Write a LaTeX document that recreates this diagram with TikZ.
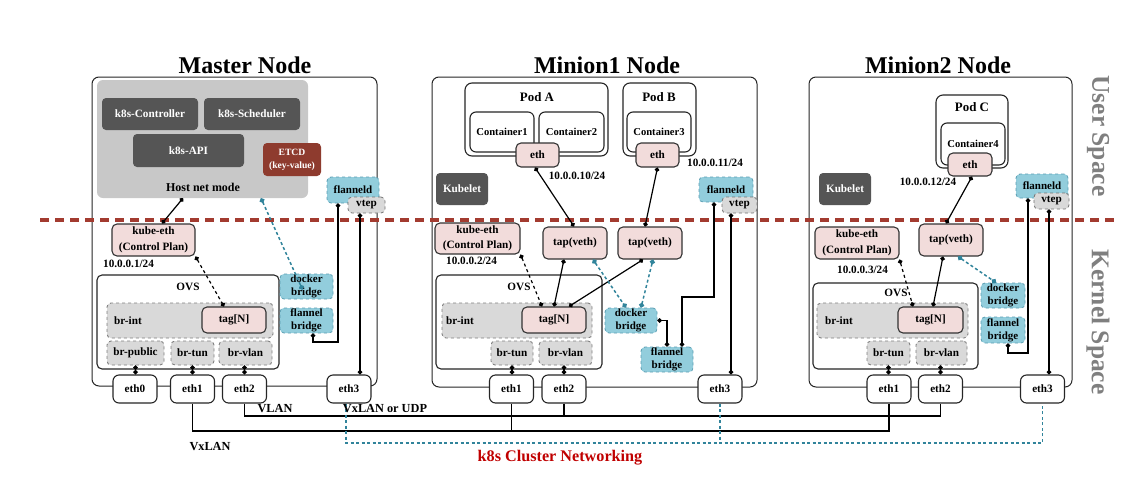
\documentclass[tikz,border=0pt]{standalone}
\usepackage{fontspec}
\setmainfont{Liberation Serif}
\usepackage{tikz}
\usetikzlibrary{arrows.meta,calc}
\definecolor{hostgray}{HTML}{C8C8C8}
\definecolor{darkfill}{HTML}{555555}
\definecolor{etcdred}{HTML}{8E3B2E}
\definecolor{pinkfill}{HTML}{F2DCDB}
\definecolor{flanblue}{HTML}{92CDDC}
\definecolor{flanedge}{HTML}{5B9EB3}
\definecolor{brgray}{HTML}{D9D9D9}
\definecolor{tealline}{HTML}{31849B}
\definecolor{splitred}{HTML}{A33B30}
\definecolor{clusterred}{HTML}{C00000}
\definecolor{spacegray}{HTML}{7F7F7F}
\newcommand{\lblfont}{\fontsize{11.2}{12.5}\selectfont\bfseries}
\newcommand{\ctnfont}{\fontsize{10.6}{12}\selectfont\bfseries}
\tikzset{
  sz/.style 2 args={minimum width=#1pt, minimum height=#2pt},
  nodeframe/.style={draw=black!85, fill=white, rounded corners=7pt, line width=1pt},
  nodetitle/.style={font=\fontsize{24}{26}\selectfont\bfseries, inner sep=0pt},
  hostmode/.style ={fill=hostgray, rounded corners=6pt},
  dark/.style     ={fill=darkfill, text=white, rounded corners=4pt, font=\lblfont, inner sep=0pt},
  etcd/.style     ={fill=etcdred, text=white, rounded corners=4pt, font=\fontsize{9.6}{13}\selectfont\bfseries, align=center, inner sep=0pt},
  pinkbox/.style  ={draw=black!80, fill=pinkfill, rounded corners=5pt, line width=1.1pt, font=\lblfont, align=center, inner sep=0pt},
  kubeeth/.style  ={pinkbox, font=\fontsize{11.2}{15.5}\selectfont\bfseries},
  flan/.style     ={draw=flanedge, dashed, fill=flanblue, rounded corners=4pt, line width=0.8pt, font=\fontsize{11}{13}\selectfont\bfseries, align=center, inner sep=0pt},
  vtepbox/.style  ={draw=black!55, dashed, fill=brgray, rounded corners=4pt, line width=0.8pt, font=\lblfont, inner sep=0pt},
  brbox/.style    ={draw=black!50, dashed, fill=brgray, rounded corners=4pt, line width=0.9pt, font=\lblfont, inner sep=0pt},
  plain/.style    ={draw=black!85, fill=white, rounded corners=5pt, line width=1.1pt, font=\lblfont, inner sep=0pt},
  podbox/.style   ={plain, rounded corners=7pt},
  ctn/.style      ={plain, rounded corners=6pt, font=\ctnfont},
  ethport/.style  ={plain, minimum width=44pt, minimum height=28pt, rounded corners=6pt},
  txt/.style      ={font=\lblfont, inner sep=0pt},
  podlbl/.style   ={font=\fontsize{12.9}{14}\selectfont\bfseries, inner sep=0pt},
  netlbl/.style   ={font=\fontsize{12.3}{14}\selectfont\bfseries, inner sep=0pt},
  spacelbl/.style ={text=spacegray, font=\fontsize{25.5}{27}\selectfont\bfseries, rotate=-90, inner sep=0pt},
  wire/.style     ={line width=1.2pt},
  link/.style     ={line width=1.2pt, {Circle[length=4.5pt]}-{Circle[length=4.5pt]}},
  ctrl/.style     ={link, dashed},
  tealink/.style  ={line width=1.5pt, tealline, dash pattern=on 3pt off 2.5pt, {Circle[length=5pt]}-{Circle[length=5pt]}},
  clusterlink/.style={line width=1.3pt, tealline, dash pattern=on 3pt off 2.5pt},
  splitline/.style={line width=3.5pt, splitred, dash pattern=on 9pt off 6pt},
}
\begin{document}
\begin{tikzpicture}[x=1pt, y=-1pt]
\useasboundingbox (0,0) rectangle (1134,485);

% node frames
\node[nodeframe, sz={285}{309}] (master) at (234.5,231.5) {};
\node[nodeframe, sz={325}{310}] (minion1) at (594.5,232) {};
\node[nodeframe, sz={263}{310}] (minion2) at (940.5,232) {};
\node[nodetitle] (mastertitle) at (245,65) {Master Node};
\node[nodetitle] (minion1title) at (607,65) {Minion1 Node};
\node[nodetitle] (minion2title) at (938,65) {Minion2 Node};

% user / kernel split
\coordinate (splitL) at (40,220);
\coordinate (splitR) at (1117,220);
\draw[splitline] (splitL) -- (splitR);
\node[spacelbl] (userspace) at (1098,136) {User Space};
\node[spacelbl] (kernelspace) at (1098,322) {Kernel Space};

% ---- master ----
\node[hostmode, sz={211}{118}] (host) at (202.5,139) {};
\node[txt, font=\fontsize{12}{13}\selectfont\bfseries] (hostlbl) at (203,187) {Host net mode};
\node[dark, sz={96}{32}] (ctrl) at (150,114) {k8s-Controller};
\node[dark, sz={96}{32}] (sched) at (252,114) {k8s-Scheduler};
\node[dark, sz={111}{33}] (api) at (188.5,150.5) {k8s-API};
\node[etcd, sz={58}{33}] (etcd) at (292,159.5) {ETCD\\(key-value)};
\node[flan, sz={52}{26}] (fld0) at (353,190) {flanneld};
\node[vtepbox, sz={37}{16}] (vtep0) at (366.5,205) {vtep};
\node[kubeeth, sz={83}{32}] (keth0) at (153.5,240) {kube-eth\\(Control Plan)};
\node[txt, anchor=west] (ip0) at (103,264) {10.0.0.1/24};
\node[plain, sz={182}{94}] (ovs0) at (188,322) {};
\node[txt] (ovslbl0) at (188,287) {OVS};
\node[brbox, sz={166}{35}] (brint0) at (190,320.5) {};
\node[txt] (brintlbl0) at (128,321) {br-int};
\node[pinkbox, sz={64}{26}] (tag0) at (234,320) {tag[N]};
\node[brbox, sz={57}{24}] (brpub0) at (135.5,353) {br-public};
\node[brbox, sz={43}{24}] (brtun0) at (192.5,353) {br-tun};
\node[brbox, sz={53}{24}] (brvlan0) at (245.5,353) {br-vlan};
\node[ethport] (eth00) at (135,389) {eth0};
\node[ethport] (eth10) at (192.5,389) {eth1};
\node[ethport] (eth20) at (244.5,389) {eth2};
\node[ethport] (eth30) at (349,389) {eth3};
\node[flan, sz={53}{25}] (dock0) at (306.5,286.5) {docker\\bridge};
\node[flan, sz={53}{25}] (flb0) at (306.5,320.5) {flannel\\bridge};

% ---- minion1 ----
\node[podbox, sz={143}{73}] (poda) at (536.5,119.5) {};
\node[podlbl] (podalbl) at (537,97) {Pod A};
\node[ctn, sz={64}{40}] (ctn1) at (502,132) {Container1};
\node[ctn, sz={65}{40}] (ctn2) at (571.5,132) {Container2};
\node[pinkbox, sz={43}{24}] (etha) at (537.5,155) {eth};
\node[podbox, sz={73}{73}] (podb) at (659.5,119.5) {};
\node[podlbl] (podblbl) at (659,97) {Pod B};
\node[ctn, sz={64}{40}] (ctn3) at (659,132) {Container3};
\node[pinkbox, sz={43}{24}] (ethb) at (657.5,155) {eth};
\node[txt] (ip10) at (577,176) {10.0.0.10/24};
\node[txt] (ip11) at (715,163) {10.0.0.11/24};
\node[dark, sz={52}{32}] (kubelet1) at (462,189) {Kubelet};
\node[flan, sz={54}{25}] (fld1) at (726,189.5) {flanneld};
\node[vtepbox, sz={35}{16}] (vtep1) at (739.5,205) {vtep};
\node[kubeeth, sz={85}{31}] (keth1) at (477.5,238.5) {kube-eth\\(Control Plan)};
\node[txt, anchor=west] (ip2) at (446,261) {10.0.0.2/24};
\node[pinkbox, sz={64}{32}] (tap1) at (575,243) {tap(veth)};
\node[pinkbox, sz={64}{32}] (tap2) at (650,243) {tap(veth)};
\node[plain, sz={166}{94}] (ovs1) at (519,322) {};
\node[txt] (ovslbl1) at (519,287) {OVS};
\node[brbox, sz={150}{35}] (brint1) at (517,320.5) {};
\node[txt] (brintlbl1) at (460,321) {br-int};
\node[pinkbox, sz={64}{26}] (tag1) at (554,320) {tag[N]};
\node[brbox, sz={42}{24}] (brtun1) at (512,353) {br-tun};
\node[brbox, sz={53}{24}] (brvlan1) at (565.5,353) {br-vlan};
\node[ethport] (eth11) at (511.5,389) {eth1};
\node[ethport] (eth21) at (564,389) {eth2};
\node[ethport] (eth31) at (720,389) {eth3};
\node[flan, sz={52}{25}] (dock1) at (631,320.5) {docker\\bridge};
\node[flan, sz={52}{25}] (flb1) at (667,359.5) {flannel\\bridge};

% ---- minion2 ----
\node[podbox, sz={72}{73}] (podc) at (972,131.5) {};
\node[podlbl] (podclbl) at (972,107) {Pod C};
\node[ctn, sz={64}{42}] (ctn4) at (973,144) {};
\node[txt, font=\ctnfont] (ctn4lbl) at (973,144) {Container4};
\node[pinkbox, sz={44}{23}] (ethc) at (970,164.5) {eth};
\node[txt] (ip12) at (928,182) {10.0.0.12/24};
\node[dark, sz={52}{32}] (kubelet2) at (845,189) {Kubelet};
\node[flan, sz={52}{24}] (fld2) at (1042,186) {flanneld};
\node[vtepbox, sz={35}{16}] (vtep2) at (1051.5,201) {vtep};
\node[kubeeth, sz={84}{32}] (keth2) at (857,243) {kube-eth\\(Control Plan)};
\node[txt, anchor=west] (ip3) at (837,270) {10.0.0.3/24};
\node[pinkbox, sz={64}{32}] (tap3) at (951,240) {tap(veth)};
\node[plain, sz={165}{86}] (ovs2) at (895.5,326) {};
\node[txt] (ovslbl2) at (896,293) {OVS};
\node[brbox, sz={151}{35}] (brint2) at (892.5,320.5) {};
\node[txt] (brintlbl2) at (839,321) {br-int};
\node[pinkbox, sz={65}{26}] (tag2) at (930.5,320) {tag[N]};
\node[brbox, sz={43}{24}] (brtun2) at (888.5,353) {br-tun};
\node[brbox, sz={51}{24}] (brvlan2) at (941.5,353) {br-vlan};
\node[ethport] (eth12) at (889,389) {eth1};
\node[ethport] (eth22) at (940.5,389) {eth2};
\node[ethport] (eth32) at (1042.5,389) {eth3};
\node[flan, sz={44}{25}] (dock2) at (1003,295.5) {docker\\bridge};
\node[flan, sz={44}{26}] (flb2) at (1003,330) {flannel\\bridge};

% master links
\draw[link] (host.south -| 183,0) -- (keth0.north -| 162,0);
\draw[tealink] (host.south -| 261,0) -- ($(dock0.center)+(-4,3)$);
\draw[ctrl] (keth0.south east) -- (tag0.north -| 224,0);
\draw[link] (brpub0.south) -- (eth00.north -| brpub0.south);
\draw[link] (brtun0.south) -- (eth10.north);
\draw[link] (brvlan0.south -| eth20.north) -- (eth20.north);
\draw[link] (fld0.south -| 338,0) -- (338,342) -- (313,342) -- (flb0.south -| 313,0);
\draw[link] (vtep0.south -| 360,0) -- (eth30.north -| 360,0);

% minion1 links
\draw[link] (etha.south -| 535,0) -- (tap1.north -| 574,0);
\draw[link] (ethb.south) -- (tap2.north -| 645,0);
\draw[ctrl] (keth1.south east) -- (tag1.north -| 542,0);
\draw[link] (tap1.south -| 564,0) -- (tag1.north);
\draw[link] (tap2.south -| 643,0) -- (tag1.north -| 569,0);
\draw[tealink] (tap1.south -| 593,0) -- (dock1.north -| 626,0);
\draw[tealink] (tap2.south -| 653,0) -- (dock1.north -| 641,0);
\draw[link] (dock1.east) -| (flb1.north);
\draw[link] (fld1.south -| 714,0) |- (682,297) -- (flb1.north -| 682,0);
\draw[link] (vtep1.south -| 731,0) -- (eth31.north -| 731,0);
\draw[link] (brtun1.south) -- (eth11.north -| brtun1.south);
\draw[link] (brvlan1.south -| eth21.north) -- (eth21.north);

% minion2 links
\draw[link] (ethc.south -| 972,0) -- (tap3.north -| 946,0);
\draw[ctrl] (keth2.south east) -- (tag2.north -| 913,0);
\draw[link] (tap3.south -| 943,0) -- (tag2.north -| 933,0);
\draw[tealink] (tap3.south -| 958,0) -- (dock2.north -| 996,0);
\draw[link] (fld2.south -| 1028,0) -- (1028,353) -- (1008,353) -- (flb2.south -| 1008,0);
\draw[link] (vtep2.south -| 1049,0) -- (eth32.north -| 1049,0);
\draw[link] (brtun2.south) -- (eth12.north -| brtun2.south);
\draw[link] (brvlan2.south -| eth22.north) -- (eth22.north);

% cluster networking
\draw[wire] (eth10.south) -- (eth10.south |- 0,431) -| (eth12.south);
\draw[wire] (eth20.south) -- (eth20.south |- 0,416) -| (eth22.south);
\draw[wire] (eth11.south) -- (eth11.south |- 0,431);
\draw[wire] (eth21.south) -- (eth21.south |- 0,416);
\draw[clusterlink] (eth30.south -| 346,0) -- (346,443) -| (eth32.south);
\draw[clusterlink] (eth31.south) -- (eth31.south |- 0,443);
\node[netlbl] (vlanlbl) at (275,409) {VLAN};
\node[netlbl] (udplbl) at (385,409) {VxLAN or UDP};
\node[netlbl] (vxlanlbl) at (210,447) {VxLAN};
\node[font=\fontsize{16.2}{18}\selectfont\bfseries, text=clusterred, inner sep=0pt] (clusterlbl) at (560,458) {k8s Cluster Networking};
\end{tikzpicture}
\end{document}
